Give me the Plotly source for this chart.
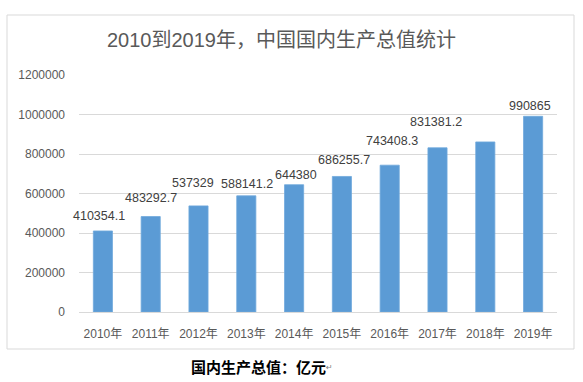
import plotly.graph_objects as go

# ---- data ----
years = ["2010年", "2011年", "2012年", "2013年", "2014年",
         "2015年", "2016年", "2017年", "2018年", "2019年"]
gdp = [410354.1, 483292.7, 537329, 588141.2, 644380,
       686255.7, 743408.3, 831381.2, 861000, 990865]
label_shown = [True, True, True, True, True, True, True, True, False, True]
y_ticks = [0, 200000, 400000, 600000, 800000, 1000000, 1200000]

# label placement (pixels, style only)
label_yshift = [15, 19, 23, 12, 10, 16, 24, 26, 0, 10]
label_xshift = [-4, 0, -6, 1, 2, 2, 2, -2, 0, -3]

FONT = "Liberation Sans, Arial, Noto Sans CJK SC, sans-serif"
CJK = "Noto Sans CJK SC, sans-serif"


def fmt(v):
    s = "%.1f" % v
    return s.rstrip("0").rstrip(".")


fig = go.Figure()
fig.add_trace(go.Bar(
    x=years, y=gdp,
    marker=dict(color="#5b9bd5", line=dict(color="#6ea8dc", width=0.8)),
    hoverinfo="x+y",
))

annotations = []
for x, v, show, dy, dx in zip(years, gdp, label_shown, label_yshift, label_xshift):
    if not show:
        continue
    annotations.append(dict(
        x=x, y=v, xref="x", yref="y", text=fmt(v), showarrow=False,
        yanchor="middle", xanchor="center", yshift=dy, xshift=dx,
        font=dict(family=FONT, size=12.5, color="#404040"),
    ))

# caption below chart frame
annotations.append(dict(
    x=0.375, y=-0.231, xref="paper", yref="paper",
    text="<b>国内生产总值：亿元</b>", showarrow=False,
    xanchor="center", yanchor="middle",
    font=dict(family=CJK, size=15, color="#000000"),
))
annotations.append(dict(
    x=0.525, y=-0.236, xref="paper", yref="paper",
    text="↵", showarrow=False, xanchor="center", yanchor="middle",
    font=dict(family="DejaVu Sans", size=8, color="#808080"),
))

fig.update_layout(
    width=583, height=382,
    margin=dict(l=79, r=26, t=75, b=70),
    paper_bgcolor="white", plot_bgcolor="white",
    showlegend=False,
    bargap=0.6,
    title=dict(
        text="2010到2019年，中国国内生产总值统计",
        x=281.5 / 583, xref="container", xanchor="center",
        y=1 - 40 / 382, yref="container", yanchor="middle",
        font=dict(family=FONT, size=20, color="#595959"),
    ),
    xaxis=dict(
        range=[-0.5, 9.5], autorange=False,
        showgrid=False, showline=False, zeroline=False, ticks="",
        tickfont=dict(family=FONT, size=12, color="#595959"),
        ticklabelstandoff=13,
    ),
    yaxis=dict(
        range=[0, 1200000], tickvals=y_ticks,
        ticktext=[str(t) for t in y_ticks],
        showgrid=True, gridcolor="#d9d9d9", gridwidth=1,
        zeroline=True, zerolinecolor="#d9d9d9", zerolinewidth=1,
        showline=False, ticks="",
        tickfont=dict(family=FONT, size=12, color="#595959"),
        ticklabelstandoff=13,
    ),
    annotations=annotations,
    shapes=[dict(
        type="rect", xref="paper", yref="paper",
        x0=(7 - 79) / 478, x1=(574 - 79) / 478,
        y0=(312 - 349) / 237, y1=(312 - 15) / 237,
        line=dict(color="#d9d9d9", width=1), fillcolor="rgba(0,0,0,0)",
        layer="below",
    )],
)

fig.write_html(
    "out.html",
    config={"displayModeBar": False},
    post_script="document.body.style.margin='0';document.body.style.padding='0';",
)
